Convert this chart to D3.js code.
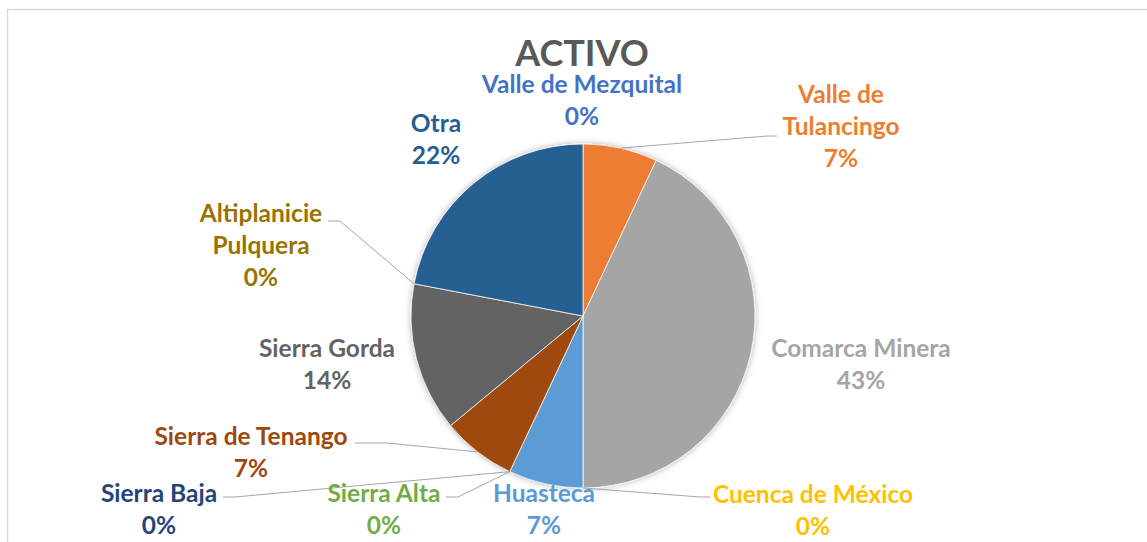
<!DOCTYPE html>
<html>
<head>
<meta charset="utf-8">
<script src="https://cdn.jsdelivr.net/npm/d3@7"></script>
<style>
  body { margin: 0; background: #fff; }
  text { font-family: Lato, "Open Sans", sans-serif; font-weight: 700; }
</style>
</head>
<body>
<div id="chart"></div>
<script>
const categories = ["Valle de Mezquital", "Valle de Tulancingo", "Comarca Minera", "Cuenca de México",
  "Huasteca", "Sierra Alta", "Sierra Baja", "Sierra de Tenango", "Sierra Gorda",
  "Altiplanicie Pulquera", "Otra"];
const values = [0, 7, 43, 0, 7, 0, 0, 7, 14, 0, 22];
const colors = ["#4472C4", "#ED7D31", "#A5A5A5", "#FFC000", "#5B9BD5", "#70AD47",
  "#264478", "#9E480E", "#636363", "#997300", "#255E91"];

const width = 1147, height = 542;
const cx = 583, cy = 316, radius = 172;

// where Excel put each label (first baseline), and the elbow of its leader line
const labelLayout = {
  "Valle de Mezquital":    { x: 582, y: 93,  lines: ["Valle de Mezquital"] },
  "Valle de Tulancingo":   { x: 841, y: 103, lines: ["Valle de", "Tulancingo"], leader: [[767, 136], [777, 136]] },
  "Comarca Minera":        { x: 861, y: 357, lines: ["Comarca Minera"] },
  "Cuenca de México":      { x: 813, y: 503, lines: ["Cuenca de México"], leader: [[700, 497], [710, 497]] },
  "Huasteca":              { x: 544, y: 502, lines: ["Huasteca"] },
  "Sierra Alta":           { x: 384, y: 502, lines: ["Sierra Alta"], leader: [[458, 497], [446, 497]] },
  "Sierra Baja":           { x: 159, y: 502, lines: ["Sierra Baja"], leader: [[235, 497], [223, 497]] },
  "Sierra de Tenango":     { x: 251, y: 445, lines: ["Sierra de Tenango"], leader: [[387, 443], [355, 443]] },
  "Sierra Gorda":          { x: 327, y: 357, lines: ["Sierra Gorda"] },
  "Altiplanicie Pulquera": { x: 261, y: 222, lines: ["Altiplanicie", "Pulquera"], leader: [[340, 221], [328, 221]] },
  "Otra":                  { x: 436, y: 132, lines: ["Otra"] }
};
const lineHeight = 32;

const svg = d3.select("#chart")
  .append("svg")
  .attr("width", width)
  .attr("height", height);

const defs = svg.append("defs");
defs.append("filter")
  .attr("id", "shadow")
  .attr("x", "-20%").attr("y", "-20%")
  .attr("width", "140%").attr("height", "140%")
  .append("feDropShadow")
  .attr("dx", 0).attr("dy", 0)
  .attr("stdDeviation", 3)
  .attr("flood-color", "#000")
  .attr("flood-opacity", 0.3);

// chart area border
svg.append("rect")
  .attr("x", 7.5).attr("y", 9.5)
  .attr("width", width + 20).attr("height", height + 20)
  .attr("fill", "none")
  .attr("stroke", "#d9d9d9")
  .attr("stroke-width", 1.5);

svg.append("text")
  .attr("x", 582).attr("y", 66)
  .attr("text-anchor", "middle")
  .style("font-size", "36px")
  .attr("fill", "#595959")
  .text("ACTIVO");

const data = categories.map((c, i) => ({ name: c, value: values[i], color: colors[i] }));

const pie = d3.pie().sort(null).value(d => d.value);
const arcs = pie(data);

const arc = d3.arc().innerRadius(0).outerRadius(radius);
const edge = d3.arc().innerRadius(radius).outerRadius(radius);

const g = svg.append("g").attr("transform", `translate(${cx},${cy})`);

g.append("g")
  .attr("filter", "url(#shadow)")
  .selectAll("path")
  .data(arcs.filter(d => d.data.value > 0))
  .join("path")
  .attr("d", arc)
  .attr("fill", d => d.data.color)
  .attr("stroke", "#fff")
  .attr("stroke-width", 0.75);

// leader lines
const line = d3.line();
svg.append("g")
  .selectAll("path")
  .data(arcs.filter(d => labelLayout[d.data.name].leader))
  .join("path")
  .attr("d", d => {
    const p = edge.centroid(d);
    return line([[cx + p[0], cy + p[1]], ...labelLayout[d.data.name].leader]);
  })
  .attr("fill", "none")
  .attr("stroke", "#a6a6a6")
  .attr("stroke-width", 1);

// labels
const labels = svg.append("g")
  .selectAll("text")
  .data(arcs)
  .join("text")
  .attr("text-anchor", "middle")
  .style("font-size", "24.5px")
  .attr("fill", d => d.data.color);

labels.each(function(d) {
  const L = labelLayout[d.data.name];
  const t = d3.select(this);
  const rows = [...L.lines, d3.format(".0f")(d.data.value) + "%"];
  rows.forEach((r, i) => {
    t.append("tspan")
      .attr("x", L.x)
      .attr("y", L.y + i * lineHeight)
      .text(r);
  });
});
</script>
</body>
</html>
